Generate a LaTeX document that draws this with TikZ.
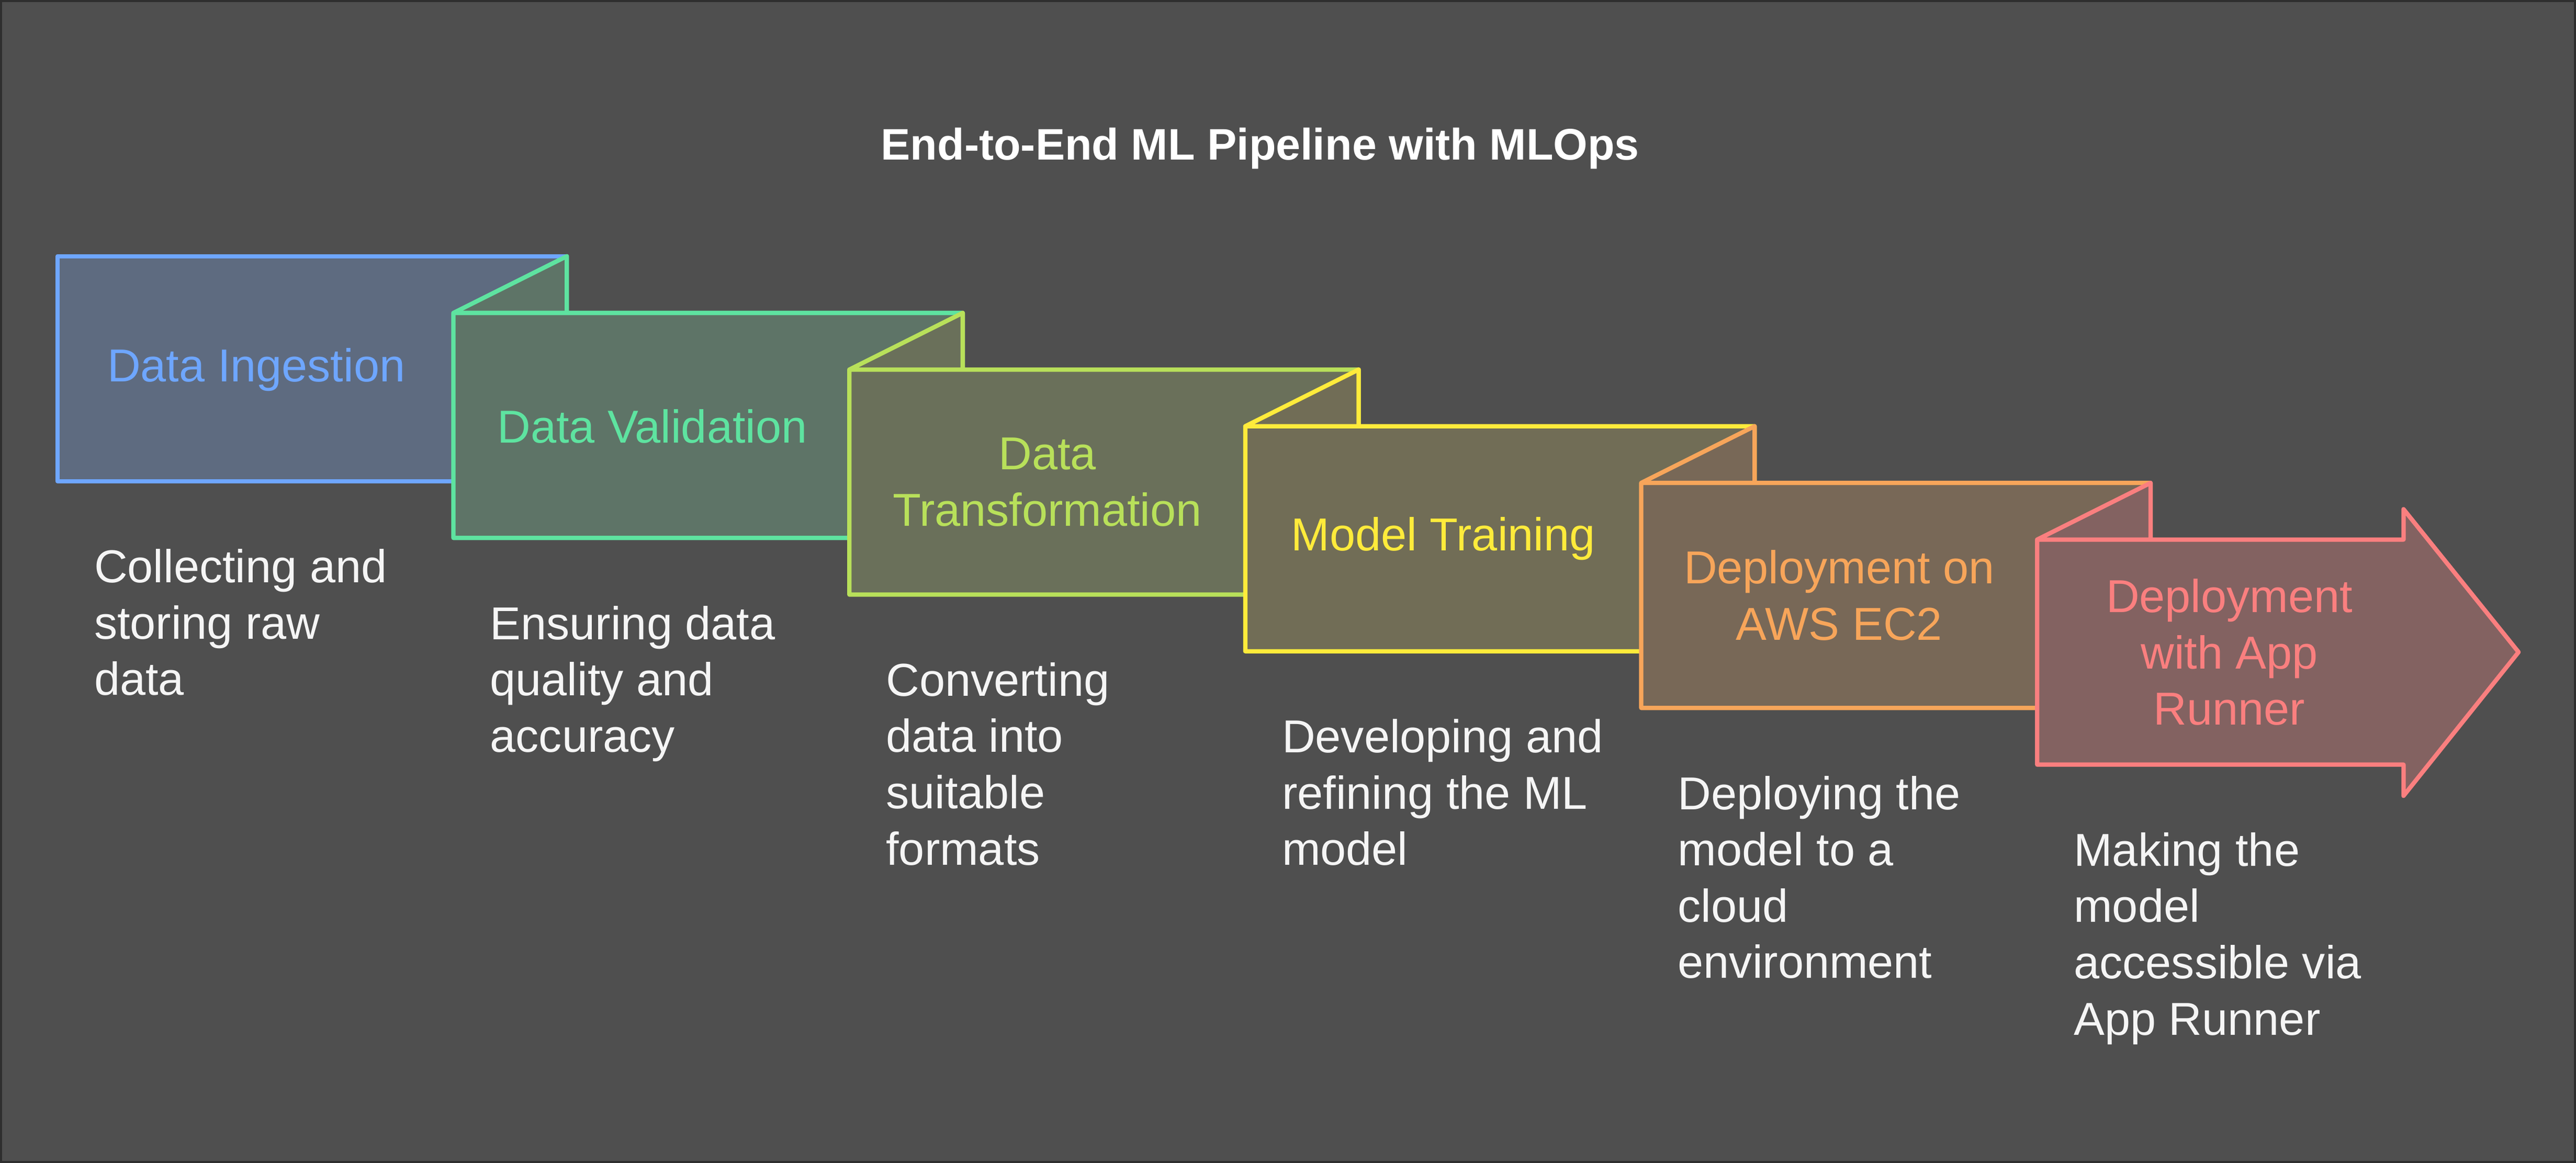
\documentclass[tikz,border=0pt]{standalone}
\usepackage{fontspec}
\setmainfont{Liberation Sans}
\usetikzlibrary{calc}

\definecolor{bgc}{HTML}{4F4F4F}
\definecolor{framec}{HTML}{2E2E2E}
\definecolor{cingest}{HTML}{6EA6FF}
\definecolor{cvalid}{HTML}{5EE3A0}
\definecolor{ctrans}{HTML}{B8E05A}
\definecolor{ctrain}{HTML}{FFEB3B}
\definecolor{cec}{HTML}{F7A55A}
\definecolor{capp}{HTML}{FA7F7F}
\definecolor{fingest}{HTML}{5E6B80}
\definecolor{fvalid}{HTML}{5E7467}
\definecolor{ftrans}{HTML}{6A705A}
\definecolor{ftrain}{HTML}{716D56}
\definecolor{fec}{HTML}{786857}
\definecolor{fapp}{HTML}{836261}

\begin{document}
\begin{tikzpicture}[line join=round]
    % Styles
    \tikzstyle{panel} = [line width=1.5pt]
    \tikzstyle{steptext} = [align=center, inner sep=0pt, font=\fontsize{16}{19.5}\selectfont]
    \tikzstyle{desc} = [align=left, anchor=north west, inner sep=0pt, text=white!96!black, font=\fontsize{16}{19.5}\selectfont]

    % Background
    \fill[framec] (0,0) rectangle (31.36,14.16);
    \fill[bgc] (0.025,0.025) rectangle (31.335,14.135);

    % Title
    \node[text=white, font=\bfseries\fontsize{15.3}{18}\selectfont] (title) at (15.34,12.35) {End-to-End ML Pipeline with MLOps};

    % Panels
    \filldraw[panel, draw=cingest, fill=fingest] (0.70,8.30) rectangle (6.90,11.04);
    \filldraw[panel, draw=cvalid, fill=fvalid] (5.52,10.35) -- (6.90,11.04) -- (6.90,10.35) -- cycle (5.52,7.61) rectangle (11.72,10.35);
    \filldraw[panel, draw=ctrans, fill=ftrans] (10.34,9.66) -- (11.72,10.35) -- (11.72,9.66) -- cycle (10.34,6.92) rectangle (16.54,9.66);
    \filldraw[panel, draw=ctrain, fill=ftrain] (15.16,8.97) -- (16.54,9.66) -- (16.54,8.97) -- cycle (15.16,6.23) rectangle (21.36,8.97);
    \filldraw[panel, draw=cec, fill=fec] (19.98,8.28) -- (21.36,8.97) -- (21.36,8.28) -- cycle (19.98,5.54) rectangle (26.18,8.28);
    \filldraw[panel, draw=capp, fill=fapp] (24.80,7.59) -- (26.18,8.28) -- (26.18,7.59) -- cycle
        (24.80,4.85) -- (24.80,7.59) -- (29.26,7.59) -- (29.26,7.96) -- (30.66,6.22) -- (29.26,4.47) -- (29.26,4.85) -- cycle;

    % Step names
    \node[steptext, text=cingest] (ingest) at (3.12,9.66) {Data Ingestion};
    \node[steptext, text=cvalid] (valid) at (7.94,8.97) {Data Validation};
    \node[steptext, text=ctrans] (trans) at (12.75,8.29) {Data\\Transformation};
    \node[steptext, text=ctrain] (train) at (17.57,7.60) {Model Training};
    \node[steptext, text=cec] (ec) at (22.39,6.91) {Deployment on\\AWS EC2};
    \node[steptext, text=capp] (apprun) at (27.14,6.22) {Deployment\\with App\\Runner};

    % Descriptions
    \node[desc] (ingestdesc) at (1.14,7.48) {Collecting and\\storing raw\\data};
    \node[desc] (validdesc) at (5.96,6.79) {Ensuring data\\quality and\\accuracy};
    \node[desc] (transdesc) at (10.78,6.10) {Converting\\data into\\suitable\\formats};
    \node[desc] (traindesc) at (15.60,5.41) {Developing and\\refining the ML\\model};
    \node[desc] (ecdesc) at (20.42,4.72) {Deploying the\\model to a\\cloud\\environment};
    \node[desc] (apprundesc) at (25.24,4.03) {Making the\\model\\accessible via\\App Runner};

\end{tikzpicture}
\end{document}
